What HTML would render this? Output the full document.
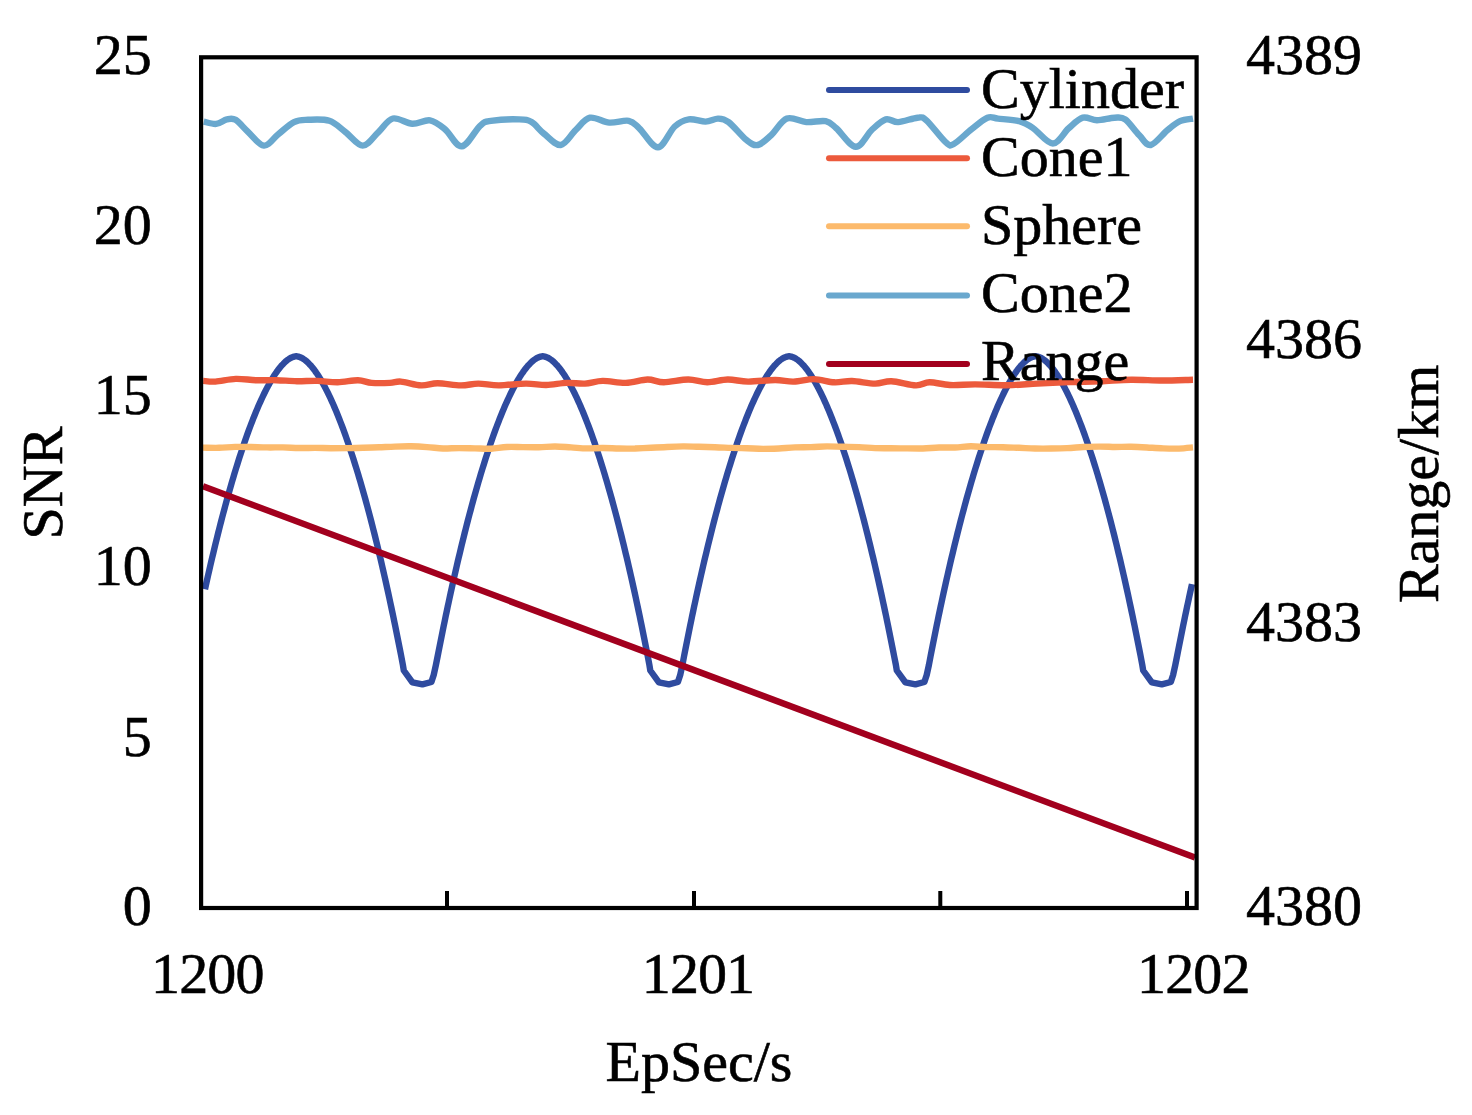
<!DOCTYPE html>
<html><head><meta charset="utf-8"><style>
html,body{margin:0;padding:0;background:#fff;}
body{width:1472px;height:1115px;overflow:hidden;}
svg{display:block;filter:blur(0.45px);}
text{font-family:"Liberation Serif", serif;font-size:58px;fill:#000;stroke:#000;stroke-width:0.6px;}
</style></head><body>
<svg width="1472" height="1115" viewBox="0 0 1472 1115">
<rect width="1472" height="1115" fill="#fff"/>
<g fill="none" stroke-linejoin="round" stroke-linecap="butt">
<path d="M205.0,589.2 L205.2,588.3 L206.2,583.7 L207.2,579.3 L208.2,574.9 L209.2,570.5 L210.2,566.1 L211.2,561.8 L212.2,557.6 L213.2,553.4 L214.2,549.2 L215.2,545.1 L216.2,541.0 L217.2,536.9 L218.2,532.9 L219.2,529.0 L220.2,525.0 L221.2,521.1 L222.2,517.3 L223.2,513.5 L224.2,509.8 L225.2,506.0 L226.2,502.4 L227.2,498.7 L228.2,495.1 L229.2,491.6 L230.2,488.1 L231.2,484.6 L232.2,481.2 L233.2,477.8 L234.2,474.4 L235.2,471.1 L236.2,467.9 L237.2,464.7 L238.2,461.5 L239.2,458.3 L240.2,455.2 L241.2,452.2 L242.2,449.2 L243.2,446.2 L244.2,443.2 L245.2,440.4 L246.2,437.5 L247.2,434.7 L248.2,431.9 L249.2,429.2 L250.2,426.5 L251.2,423.9 L252.2,421.3 L253.2,418.7 L254.2,416.2 L255.2,413.8 L256.2,411.3 L257.2,409.0 L258.2,406.6 L259.2,404.3 L260.2,402.1 L261.2,399.9 L262.2,397.7 L263.2,395.6 L264.2,393.5 L265.2,391.5 L266.2,389.6 L267.2,387.6 L268.2,385.8 L269.2,383.9 L270.2,382.2 L271.2,380.4 L272.2,378.8 L273.2,377.1 L274.2,375.5 L275.2,374.0 L276.2,372.6 L277.2,371.1 L278.2,369.8 L279.2,368.5 L280.2,367.2 L281.2,366.0 L282.2,364.9 L283.2,363.9 L284.2,362.8 L285.2,361.9 L286.2,361.0 L287.2,360.2 L288.2,359.5 L289.2,358.8 L290.2,358.2 L291.2,357.7 L292.2,357.3 L293.2,356.9 L294.2,356.6 L295.2,356.4 L296.2,356.3 L297.2,356.4 L298.2,356.6 L299.2,356.9 L300.2,357.3 L301.2,357.7 L302.2,358.2 L303.2,358.8 L304.2,359.5 L305.2,360.2 L306.2,361.0 L307.2,361.9 L308.2,362.8 L309.2,363.9 L310.2,364.9 L311.2,366.0 L312.2,367.2 L313.2,368.5 L314.2,369.8 L315.2,371.1 L316.2,372.6 L317.2,374.0 L318.2,375.5 L319.2,377.1 L320.2,378.8 L321.2,380.4 L322.2,382.2 L323.2,383.9 L324.2,385.8 L325.2,387.6 L326.2,389.6 L327.2,391.5 L328.2,393.5 L329.2,395.6 L330.2,397.7 L331.2,399.9 L332.2,402.1 L333.2,404.3 L334.2,406.6 L335.2,409.0 L336.2,411.3 L337.2,413.8 L338.2,416.2 L339.2,418.7 L340.2,421.3 L341.2,423.9 L342.2,426.5 L343.2,429.2 L344.2,431.9 L345.2,434.7 L346.2,437.5 L347.2,440.4 L348.2,443.2 L349.2,446.2 L350.2,449.2 L351.2,452.2 L352.2,455.2 L353.2,458.3 L354.2,461.5 L355.2,464.7 L356.2,467.9 L357.2,471.1 L358.2,474.4 L359.2,477.8 L360.2,481.2 L361.2,484.6 L362.2,488.1 L363.2,491.6 L364.2,495.1 L365.2,498.7 L366.2,502.4 L367.2,506.0 L368.2,509.8 L369.2,513.5 L370.2,517.3 L371.2,521.1 L372.2,525.0 L373.2,529.0 L374.2,532.9 L375.2,536.9 L376.2,541.0 L377.2,545.1 L378.2,549.2 L379.2,553.4 L380.2,557.6 L381.2,561.8 L382.2,566.1 L383.2,570.5 L384.2,574.9 L385.2,579.3 L386.2,583.7 L387.2,588.3 L388.2,592.8 L389.2,597.4 L390.2,602.1 L391.2,606.7 L392.2,611.5 L393.2,616.2 L394.2,621.1 L395.2,625.9 L396.2,630.8 L397.2,635.8 L398.2,640.8 L399.2,645.8 L400.2,650.9 L401.2,656.0 L402.9,665.0 L403.8,670.5 L412.4,682.4 L422.4,684.4 L431.4,682.0 L433.7,675.0 L435.9,665.0 L437.7,656.0 L438.7,650.9 L439.7,645.8 L440.7,640.8 L441.7,635.8 L442.7,630.8 L443.7,625.9 L444.7,621.1 L445.7,616.2 L446.7,611.5 L447.7,606.7 L448.7,602.1 L449.7,597.4 L450.7,592.8 L451.7,588.3 L452.7,583.7 L453.7,579.3 L454.7,574.9 L455.7,570.5 L456.7,566.1 L457.7,561.8 L458.7,557.6 L459.7,553.4 L460.7,549.2 L461.7,545.1 L462.7,541.0 L463.7,536.9 L464.7,532.9 L465.7,529.0 L466.7,525.0 L467.7,521.1 L468.7,517.3 L469.7,513.5 L470.7,509.8 L471.7,506.0 L472.7,502.4 L473.7,498.7 L474.7,495.1 L475.7,491.6 L476.7,488.1 L477.7,484.6 L478.7,481.2 L479.7,477.8 L480.7,474.4 L481.7,471.1 L482.7,467.9 L483.7,464.7 L484.7,461.5 L485.7,458.3 L486.7,455.2 L487.7,452.2 L488.7,449.2 L489.7,446.2 L490.7,443.2 L491.7,440.4 L492.7,437.5 L493.7,434.7 L494.7,431.9 L495.7,429.2 L496.7,426.5 L497.7,423.9 L498.7,421.3 L499.7,418.7 L500.7,416.2 L501.7,413.8 L502.7,411.3 L503.7,409.0 L504.7,406.6 L505.7,404.3 L506.7,402.1 L507.7,399.9 L508.7,397.7 L509.7,395.6 L510.7,393.5 L511.7,391.5 L512.7,389.6 L513.7,387.6 L514.7,385.8 L515.7,383.9 L516.7,382.2 L517.7,380.4 L518.7,378.8 L519.7,377.1 L520.7,375.5 L521.7,374.0 L522.7,372.6 L523.7,371.1 L524.7,369.8 L525.7,368.5 L526.7,367.2 L527.7,366.0 L528.7,364.9 L529.7,363.9 L530.7,362.8 L531.7,361.9 L532.7,361.0 L533.7,360.2 L534.7,359.5 L535.7,358.8 L536.7,358.2 L537.7,357.7 L538.7,357.3 L539.7,356.9 L540.7,356.6 L541.7,356.4 L542.7,356.3 L543.7,356.4 L544.7,356.6 L545.7,356.9 L546.7,357.3 L547.7,357.7 L548.7,358.2 L549.7,358.8 L550.7,359.5 L551.7,360.2 L552.7,361.0 L553.7,361.9 L554.7,362.8 L555.7,363.9 L556.7,364.9 L557.7,366.0 L558.7,367.2 L559.7,368.5 L560.7,369.8 L561.7,371.1 L562.7,372.6 L563.7,374.0 L564.7,375.5 L565.7,377.1 L566.7,378.8 L567.7,380.4 L568.7,382.2 L569.7,383.9 L570.7,385.8 L571.7,387.6 L572.7,389.6 L573.7,391.5 L574.7,393.5 L575.7,395.6 L576.7,397.7 L577.7,399.9 L578.7,402.1 L579.7,404.3 L580.7,406.6 L581.7,409.0 L582.7,411.3 L583.7,413.8 L584.7,416.2 L585.7,418.7 L586.7,421.3 L587.7,423.9 L588.7,426.5 L589.7,429.2 L590.7,431.9 L591.7,434.7 L592.7,437.5 L593.7,440.4 L594.7,443.2 L595.7,446.2 L596.7,449.2 L597.7,452.2 L598.7,455.2 L599.7,458.3 L600.7,461.5 L601.7,464.7 L602.7,467.9 L603.7,471.1 L604.7,474.4 L605.7,477.8 L606.7,481.2 L607.7,484.6 L608.7,488.1 L609.7,491.6 L610.7,495.1 L611.7,498.7 L612.7,502.4 L613.7,506.0 L614.7,509.8 L615.7,513.5 L616.7,517.3 L617.7,521.1 L618.7,525.0 L619.7,529.0 L620.7,532.9 L621.7,536.9 L622.7,541.0 L623.7,545.1 L624.7,549.2 L625.7,553.4 L626.7,557.6 L627.7,561.8 L628.7,566.1 L629.7,570.5 L630.7,574.9 L631.7,579.3 L632.7,583.7 L633.7,588.3 L634.7,592.8 L635.7,597.4 L636.7,602.1 L637.7,606.7 L638.7,611.5 L639.7,616.2 L640.7,621.1 L641.7,625.9 L642.7,630.8 L643.7,635.8 L644.7,640.8 L645.7,645.8 L646.7,650.9 L647.7,656.0 L649.4,665.0 L650.3,670.5 L658.9,682.4 L668.9,684.4 L677.9,682.0 L680.2,675.0 L682.4,665.0 L684.1,656.0 L685.1,650.9 L686.1,645.8 L687.1,640.8 L688.1,635.8 L689.1,630.8 L690.1,625.9 L691.1,621.1 L692.1,616.2 L693.1,611.5 L694.1,606.7 L695.1,602.1 L696.1,597.4 L697.1,592.8 L698.1,588.3 L699.1,583.7 L700.1,579.3 L701.1,574.9 L702.1,570.5 L703.1,566.1 L704.1,561.8 L705.1,557.6 L706.1,553.4 L707.1,549.2 L708.1,545.1 L709.1,541.0 L710.1,536.9 L711.1,532.9 L712.1,529.0 L713.1,525.0 L714.1,521.1 L715.1,517.3 L716.1,513.5 L717.1,509.8 L718.1,506.0 L719.1,502.4 L720.1,498.7 L721.1,495.1 L722.1,491.6 L723.1,488.1 L724.1,484.6 L725.1,481.2 L726.1,477.8 L727.1,474.4 L728.1,471.1 L729.1,467.9 L730.1,464.7 L731.1,461.5 L732.1,458.3 L733.1,455.2 L734.1,452.2 L735.1,449.2 L736.1,446.2 L737.1,443.2 L738.1,440.4 L739.1,437.5 L740.1,434.7 L741.1,431.9 L742.1,429.2 L743.1,426.5 L744.1,423.9 L745.1,421.3 L746.1,418.7 L747.1,416.2 L748.1,413.8 L749.1,411.3 L750.1,409.0 L751.1,406.6 L752.1,404.3 L753.1,402.1 L754.1,399.9 L755.1,397.7 L756.1,395.6 L757.1,393.5 L758.1,391.5 L759.1,389.6 L760.1,387.6 L761.1,385.8 L762.1,383.9 L763.1,382.2 L764.1,380.4 L765.1,378.8 L766.1,377.1 L767.1,375.5 L768.1,374.0 L769.1,372.6 L770.1,371.1 L771.1,369.8 L772.1,368.5 L773.1,367.2 L774.1,366.0 L775.1,364.9 L776.1,363.9 L777.1,362.8 L778.1,361.9 L779.1,361.0 L780.1,360.2 L781.1,359.5 L782.1,358.8 L783.1,358.2 L784.1,357.7 L785.1,357.3 L786.1,356.9 L787.1,356.6 L788.1,356.4 L789.1,356.3 L790.1,356.4 L791.1,356.6 L792.1,356.9 L793.1,357.3 L794.1,357.7 L795.1,358.2 L796.1,358.8 L797.1,359.5 L798.1,360.2 L799.1,361.0 L800.1,361.9 L801.1,362.8 L802.1,363.9 L803.1,364.9 L804.1,366.0 L805.1,367.2 L806.1,368.5 L807.1,369.8 L808.1,371.1 L809.1,372.6 L810.1,374.0 L811.1,375.5 L812.1,377.1 L813.1,378.8 L814.1,380.4 L815.1,382.2 L816.1,383.9 L817.1,385.8 L818.1,387.6 L819.1,389.6 L820.1,391.5 L821.1,393.5 L822.1,395.6 L823.1,397.7 L824.1,399.9 L825.1,402.1 L826.1,404.3 L827.1,406.6 L828.1,409.0 L829.1,411.3 L830.1,413.8 L831.1,416.2 L832.1,418.7 L833.1,421.3 L834.1,423.9 L835.1,426.5 L836.1,429.2 L837.1,431.9 L838.1,434.7 L839.1,437.5 L840.1,440.4 L841.1,443.2 L842.1,446.2 L843.1,449.2 L844.1,452.2 L845.1,455.2 L846.1,458.3 L847.1,461.5 L848.1,464.7 L849.1,467.9 L850.1,471.1 L851.1,474.4 L852.1,477.8 L853.1,481.2 L854.1,484.6 L855.1,488.1 L856.1,491.6 L857.1,495.1 L858.1,498.7 L859.1,502.4 L860.1,506.0 L861.1,509.8 L862.1,513.5 L863.1,517.3 L864.1,521.1 L865.1,525.0 L866.1,529.0 L867.1,532.9 L868.1,536.9 L869.1,541.0 L870.1,545.1 L871.1,549.2 L872.1,553.4 L873.1,557.6 L874.1,561.8 L875.1,566.1 L876.1,570.5 L877.1,574.9 L878.1,579.3 L879.1,583.7 L880.1,588.3 L881.1,592.8 L882.1,597.4 L883.1,602.1 L884.1,606.7 L885.1,611.5 L886.1,616.2 L887.1,621.1 L888.1,625.9 L889.1,630.8 L890.1,635.8 L891.1,640.8 L892.1,645.8 L893.1,650.9 L894.1,656.0 L895.9,665.0 L896.8,670.5 L905.4,682.4 L915.4,684.4 L924.4,682.0 L926.7,675.0 L928.9,665.0 L930.6,656.0 L931.6,650.9 L932.6,645.8 L933.6,640.8 L934.6,635.8 L935.6,630.8 L936.6,625.9 L937.6,621.1 L938.6,616.2 L939.6,611.5 L940.6,606.7 L941.6,602.1 L942.6,597.4 L943.6,592.8 L944.6,588.3 L945.6,583.7 L946.6,579.3 L947.6,574.9 L948.6,570.5 L949.6,566.1 L950.6,561.8 L951.6,557.6 L952.6,553.4 L953.6,549.2 L954.6,545.1 L955.6,541.0 L956.6,536.9 L957.6,532.9 L958.6,529.0 L959.6,525.0 L960.6,521.1 L961.6,517.3 L962.6,513.5 L963.6,509.8 L964.6,506.0 L965.6,502.4 L966.6,498.7 L967.6,495.1 L968.6,491.6 L969.6,488.1 L970.6,484.6 L971.6,481.2 L972.6,477.8 L973.6,474.4 L974.6,471.1 L975.6,467.9 L976.6,464.7 L977.6,461.5 L978.6,458.3 L979.6,455.2 L980.6,452.2 L981.6,449.2 L982.6,446.2 L983.6,443.2 L984.6,440.4 L985.6,437.5 L986.6,434.7 L987.6,431.9 L988.6,429.2 L989.6,426.5 L990.6,423.9 L991.6,421.3 L992.6,418.7 L993.6,416.2 L994.6,413.8 L995.6,411.3 L996.6,409.0 L997.6,406.6 L998.6,404.3 L999.6,402.1 L1000.6,399.9 L1001.6,397.7 L1002.6,395.6 L1003.6,393.5 L1004.6,391.5 L1005.6,389.6 L1006.6,387.6 L1007.6,385.8 L1008.6,383.9 L1009.6,382.2 L1010.6,380.4 L1011.6,378.8 L1012.6,377.1 L1013.6,375.5 L1014.6,374.0 L1015.6,372.6 L1016.6,371.1 L1017.6,369.8 L1018.6,368.5 L1019.6,367.2 L1020.6,366.0 L1021.6,364.9 L1022.6,363.9 L1023.6,362.8 L1024.6,361.9 L1025.6,361.0 L1026.6,360.2 L1027.6,359.5 L1028.6,358.8 L1029.6,358.2 L1030.6,357.7 L1031.6,357.3 L1032.6,356.9 L1033.6,356.6 L1034.6,356.4 L1035.6,356.3 L1036.6,356.4 L1037.6,356.6 L1038.6,356.9 L1039.6,357.3 L1040.6,357.7 L1041.6,358.2 L1042.6,358.8 L1043.6,359.5 L1044.6,360.2 L1045.6,361.0 L1046.6,361.9 L1047.6,362.8 L1048.6,363.9 L1049.6,364.9 L1050.6,366.0 L1051.6,367.2 L1052.6,368.5 L1053.6,369.8 L1054.6,371.1 L1055.6,372.6 L1056.6,374.0 L1057.6,375.5 L1058.6,377.1 L1059.6,378.8 L1060.6,380.4 L1061.6,382.2 L1062.6,383.9 L1063.6,385.8 L1064.6,387.6 L1065.6,389.6 L1066.6,391.5 L1067.6,393.5 L1068.6,395.6 L1069.6,397.7 L1070.6,399.9 L1071.6,402.1 L1072.6,404.3 L1073.6,406.6 L1074.6,409.0 L1075.6,411.3 L1076.6,413.8 L1077.6,416.2 L1078.6,418.7 L1079.6,421.3 L1080.6,423.9 L1081.6,426.5 L1082.6,429.2 L1083.6,431.9 L1084.6,434.7 L1085.6,437.5 L1086.6,440.4 L1087.6,443.2 L1088.6,446.2 L1089.6,449.2 L1090.6,452.2 L1091.6,455.2 L1092.6,458.3 L1093.6,461.5 L1094.6,464.7 L1095.6,467.9 L1096.6,471.1 L1097.6,474.4 L1098.6,477.8 L1099.6,481.2 L1100.6,484.6 L1101.6,488.1 L1102.6,491.6 L1103.6,495.1 L1104.6,498.7 L1105.6,502.4 L1106.6,506.0 L1107.6,509.8 L1108.6,513.5 L1109.6,517.3 L1110.6,521.1 L1111.6,525.0 L1112.6,529.0 L1113.6,532.9 L1114.6,536.9 L1115.6,541.0 L1116.6,545.1 L1117.6,549.2 L1118.6,553.4 L1119.6,557.6 L1120.6,561.8 L1121.6,566.1 L1122.6,570.5 L1123.6,574.9 L1124.6,579.3 L1125.6,583.7 L1126.6,588.3 L1127.6,592.8 L1128.6,597.4 L1129.6,602.1 L1130.6,606.7 L1131.6,611.5 L1132.6,616.2 L1133.6,621.1 L1134.6,625.9 L1135.6,630.8 L1136.6,635.8 L1137.6,640.8 L1138.6,645.8 L1139.6,650.9 L1140.6,656.0 L1142.3,665.0 L1143.2,670.5 L1151.8,682.4 L1161.8,684.4 L1170.8,682.0 L1173.1,675.0 L1175.3,665.0 L1177.1,656.0 L1178.1,650.9 L1179.1,645.8 L1180.1,640.8 L1181.1,635.8 L1182.1,630.8 L1183.1,625.9 L1184.1,621.1 L1185.1,616.2 L1186.1,611.5 L1187.1,606.7 L1188.1,602.1 L1189.1,597.4 L1190.1,592.8 L1191.1,588.3 L1192.0,584.1" stroke="#2f4b9f" stroke-width="6.4"/>
<path d="M203.2,380.9 C205.2,381.0 210.0,381.9 215.4,381.6 C220.8,381.3 229.0,379.1 235.8,378.9 C242.6,378.7 249.3,380.0 256.1,380.2 C262.9,380.4 269.7,380.0 276.5,380.2 C283.3,380.4 290.1,381.1 296.9,381.2 C303.7,381.3 310.5,380.7 317.3,380.9 C324.1,381.1 330.9,382.4 337.7,382.3 C344.5,382.2 352.4,380.1 358.0,380.2 C363.6,380.3 366.3,382.4 371.6,382.9 C376.9,383.3 385.1,383.1 390.0,382.9 C394.9,382.7 395.7,381.2 400.9,381.6 C406.1,382.0 415.1,385.1 421.2,385.4 C427.3,385.7 431.0,383.2 437.6,383.2 C444.2,383.2 453.9,385.3 460.7,385.4 C467.5,385.5 472.0,383.6 478.3,383.6 C484.6,383.6 490.8,385.4 498.7,385.4 C506.6,385.4 518.0,383.7 525.9,383.6 C533.8,383.5 539.4,385.1 546.2,385.0 C553.0,384.9 560.1,383.1 566.6,382.9 C573.1,382.7 579.0,383.9 585.0,383.6 C591.0,383.3 595.9,381.0 602.7,380.9 C609.5,380.8 618.3,383.1 625.8,382.9 C633.3,382.7 641.2,379.6 647.5,379.5 C653.8,379.4 657.0,382.3 663.8,382.3 C670.6,382.3 681.0,379.5 688.3,379.5 C695.5,379.5 700.7,382.3 707.3,382.3 C713.9,382.3 720.9,379.6 727.7,379.5 C734.5,379.4 740.1,381.5 748.0,381.6 C755.9,381.7 767.6,380.0 775.2,380.0 C782.8,380.0 787.1,381.8 793.6,381.6 C800.1,381.5 807.2,379.0 814.0,379.1 C820.8,379.2 828.0,382.0 834.3,382.3 C840.6,382.6 845.2,380.8 852.0,381.0 C858.8,381.2 868.5,383.6 875.1,383.6 C881.7,383.7 884.6,381.0 891.4,381.3 C898.2,381.6 909.5,385.2 915.9,385.4 C922.2,385.6 923.9,382.4 929.5,382.3 C935.1,382.2 942.2,384.6 949.8,385.0 C957.4,385.4 965.6,384.4 975.0,384.4 C984.4,384.4 995.9,385.3 1006.3,385.2 C1016.7,385.1 1027.1,384.1 1037.5,383.6 C1047.9,383.1 1058.4,382.5 1068.8,382.1 C1079.2,381.7 1089.6,381.7 1100.0,381.3 C1110.4,380.9 1120.9,379.8 1131.3,379.7 C1141.7,379.6 1152.2,380.5 1162.5,380.5 C1172.8,380.5 1187.9,379.8 1193.0,379.7" stroke="#ec5a3c" stroke-width="6.4"/>
<path d="M203.0,447.6 C205.7,447.6 213.7,448.0 219.0,447.8 C224.3,447.7 229.7,447.0 235.0,446.9 C240.3,446.7 245.7,446.9 251.0,447.0 C256.3,447.1 261.7,447.4 267.0,447.4 C272.3,447.5 277.7,447.3 283.0,447.4 C288.3,447.5 293.7,447.9 299.0,448.0 C304.3,448.1 309.7,447.9 315.0,447.9 C320.3,447.9 325.7,448.2 331.0,448.2 C336.3,448.2 341.7,448.2 347.0,448.1 C352.3,448.0 357.7,447.9 363.0,447.7 C368.3,447.6 373.7,447.5 379.0,447.3 C384.3,447.1 389.7,446.7 395.0,446.6 C400.3,446.4 405.7,446.2 411.0,446.3 C416.3,446.4 421.7,446.7 427.0,447.1 C432.3,447.4 437.7,448.3 443.0,448.5 C448.3,448.6 453.7,448.1 459.0,448.1 C464.3,448.1 469.7,448.3 475.0,448.4 C480.3,448.5 485.7,448.9 491.0,448.7 C496.3,448.4 501.7,447.2 507.0,447.0 C512.3,446.7 517.7,447.1 523.0,447.1 C528.3,447.2 533.7,447.3 539.0,447.2 C544.3,447.1 549.7,446.5 555.0,446.5 C560.3,446.5 565.7,447.1 571.0,447.4 C576.3,447.7 581.7,448.3 587.0,448.4 C592.3,448.5 597.7,447.9 603.0,448.0 C608.3,448.0 613.7,448.4 619.0,448.5 C624.3,448.6 629.7,448.6 635.0,448.5 C640.3,448.3 645.7,448.0 651.0,447.8 C656.3,447.5 661.7,447.2 667.0,447.0 C672.3,446.7 677.7,446.4 683.0,446.4 C688.3,446.3 693.7,446.7 699.0,446.8 C704.3,447.0 709.7,447.0 715.0,447.2 C720.3,447.3 725.7,447.7 731.0,447.9 C736.3,448.1 741.7,448.1 747.0,448.2 C752.3,448.4 757.7,448.8 763.0,448.9 C768.3,448.9 773.7,448.7 779.0,448.5 C784.3,448.2 789.7,447.6 795.0,447.4 C800.3,447.1 805.7,447.3 811.0,447.1 C816.3,447.0 821.7,446.5 827.0,446.4 C832.3,446.4 837.7,446.7 843.0,446.8 C848.3,446.9 853.7,446.9 859.0,447.1 C864.3,447.3 869.7,447.9 875.0,448.1 C880.3,448.3 885.7,448.2 891.0,448.2 C896.3,448.3 901.7,448.4 907.0,448.4 C912.3,448.5 917.7,448.6 923.0,448.5 C928.3,448.3 933.7,447.7 939.0,447.5 C944.3,447.4 949.7,447.7 955.0,447.5 C960.3,447.3 965.7,446.4 971.0,446.3 C976.3,446.3 981.7,447.0 987.0,447.1 C992.3,447.2 997.7,447.1 1003.0,447.2 C1008.3,447.3 1013.7,447.6 1019.0,447.8 C1024.3,448.0 1029.7,448.4 1035.0,448.5 C1040.3,448.6 1045.7,448.6 1051.0,448.5 C1056.3,448.4 1061.7,448.3 1067.0,448.1 C1072.3,447.9 1077.7,447.3 1083.0,447.0 C1088.3,446.8 1093.7,446.6 1099.0,446.6 C1104.3,446.5 1109.7,446.9 1115.0,447.0 C1120.3,447.0 1125.7,446.7 1131.0,446.8 C1136.3,446.9 1141.7,447.2 1147.0,447.5 C1152.3,447.8 1157.7,448.2 1163.0,448.4 C1168.3,448.6 1174.0,448.7 1179.0,448.6 C1184.0,448.4 1190.7,447.6 1193.0,447.4" stroke="#fcba6c" stroke-width="6.4"/>
<path d="M203.8,121.6 C205.9,122.0 212.4,124.3 216.2,123.9 C220.0,123.5 223.6,120.1 226.8,119.4 C230.0,118.7 232.1,117.7 235.6,119.8 C239.1,121.9 243.3,127.5 248.0,131.8 C252.7,136.1 258.9,145.2 263.9,145.6 C268.9,146.0 273.0,138.4 278.0,134.5 C283.0,130.6 289.0,124.5 294.0,122.1 C299.0,119.6 302.1,120.0 308.0,119.8 C313.9,119.6 323.1,118.8 329.3,120.8 C335.5,122.8 339.6,127.7 345.2,131.8 C350.8,135.9 357.2,145.6 362.8,145.6 C368.4,145.6 373.7,136.3 378.7,131.8 C383.7,127.3 387.3,119.8 392.9,118.5 C398.5,117.2 406.1,123.5 412.3,123.8 C418.5,124.1 424.6,119.4 430.0,120.3 C435.4,121.2 439.7,124.9 445.0,129.2 C450.3,133.5 455.9,146.9 461.8,146.3 C467.7,145.7 475.5,129.8 480.3,125.6 C485.1,121.3 484.4,121.8 490.9,120.8 C497.4,119.8 512.4,119.2 519.2,119.4 C526.0,119.6 527.5,119.7 531.6,122.1 C535.7,124.5 539.0,129.8 543.9,133.6 C548.8,137.4 555.4,145.6 560.7,145.0 C566.0,144.4 570.8,134.6 575.7,130.0 C580.6,125.5 584.3,118.9 589.9,117.7 C595.5,116.5 602.8,122.1 609.3,122.6 C615.8,123.1 623.7,119.8 628.7,120.8 C633.7,121.8 634.4,123.9 639.3,128.3 C644.2,132.7 652.0,147.6 657.9,147.3 C663.8,147.0 669.6,131.2 674.7,126.5 C679.9,121.8 683.6,120.2 688.8,119.4 C693.9,118.6 700.7,121.7 705.6,121.6 C710.5,121.5 714.2,118.5 718.0,118.6 C721.8,118.7 723.9,118.6 728.6,122.1 C733.3,125.6 741.4,136.0 746.2,139.8 C751.1,143.6 753.6,145.8 757.7,145.0 C761.8,144.2 766.1,139.7 771.0,135.3 C775.9,130.9 781.0,120.8 786.9,118.6 C792.8,116.4 799.8,121.7 806.3,122.1 C812.8,122.5 820.7,120.2 825.7,121.2 C830.7,122.2 831.3,124.0 836.3,128.3 C841.3,132.6 849.9,146.5 855.8,146.8 C861.7,147.1 866.7,134.6 871.7,130.0 C876.7,125.4 881.4,120.7 885.8,119.4 C890.2,118.1 892.9,122.4 898.2,122.1 C903.5,121.8 912.9,118.0 917.6,117.7 C922.3,117.4 921.7,116.2 926.4,120.3 C931.1,124.4 941.3,138.5 945.9,142.4 C950.5,146.3 949.5,146.2 953.8,144.0 C958.1,141.8 965.9,133.6 971.5,129.2 C977.1,124.8 983.0,119.5 987.4,117.7 C991.8,115.9 992.7,118.0 998.0,118.6 C1003.3,119.2 1013.3,119.6 1019.2,121.2 C1025.1,122.8 1027.7,124.6 1033.3,128.3 C1038.9,132.0 1046.9,143.5 1052.8,143.5 C1058.7,143.5 1063.7,132.6 1068.7,128.3 C1073.7,124.0 1078.1,119.0 1082.8,117.7 C1087.5,116.4 1091.7,120.3 1097.0,120.3 C1102.3,120.3 1109.9,117.8 1114.6,117.7 C1119.3,117.6 1121.1,116.5 1125.2,119.4 C1129.3,122.3 1135.0,131.0 1139.3,135.3 C1143.6,139.6 1146.1,145.9 1150.8,145.0 C1155.5,144.1 1162.7,134.0 1167.6,130.0 C1172.5,126.0 1175.8,123.1 1180.0,121.2 C1184.2,119.3 1190.8,119.0 1193.0,118.6" stroke="#6aa8ce" stroke-width="6.4"/>
<path d="M203,486.3 L1195,857.6" stroke="#a2001e" stroke-width="6.4"/>
</g>
<g fill="none" stroke="#000" stroke-width="4.2">
<rect x="201.1" y="57.3" width="995.5" height="850.7"/>
<path d="M447,891 V908 M694,891 V908 M940.3,891 V908 M1187,891 V908" stroke-width="4"/>
</g>
<g fill="none" stroke-width="6" stroke-linecap="round">
<path d="M829,90 H967" stroke="#2f4b9f"/>
<path d="M829,158.2 H967" stroke="#ec5a3c"/>
<path d="M829,226.2 H967" stroke="#fcba6c"/>
<path d="M829,295.6 H967" stroke="#6aa8ce"/>
<path d="M829,364 H967" stroke="#a2001e"/>
</g>
<g>
<text x="981" y="108.2">Cylinder</text>
<text x="981" y="176.2">Cone1</text>
<text x="981" y="244.3">Sphere</text>
<text x="981" y="312.4">Cone2</text>
<text x="981" y="380.4">Range</text>
</g>
<g text-anchor="end">
<text x="151.8" y="73.9">25</text>
<text x="151.8" y="244.1">20</text>
<text x="151.8" y="414.4">15</text>
<text x="151.8" y="584.6">10</text>
<text x="151.8" y="756">5</text>
<text x="151.8" y="925.1">0</text>
</g>
<g>
<text x="1246" y="73.6">4389</text>
<text x="1246" y="358.4">4386</text>
<text x="1246" y="641.2">4383</text>
<text x="1246" y="925">4380</text>
</g>
<g text-anchor="middle" letter-spacing="-0.9">
<text x="207.3" y="992.7">1200</text>
<text x="698" y="992.7">1201</text>
<text x="1193.3" y="992.7">1202</text>
</g>
<text x="605.5" y="1081">EpSec/s</text>
<text transform="translate(62.2,539.4) rotate(-90)">SNR</text>
<text transform="translate(1437.5,603.1) rotate(-90)">Range/km</text>
</svg>
</body></html>
